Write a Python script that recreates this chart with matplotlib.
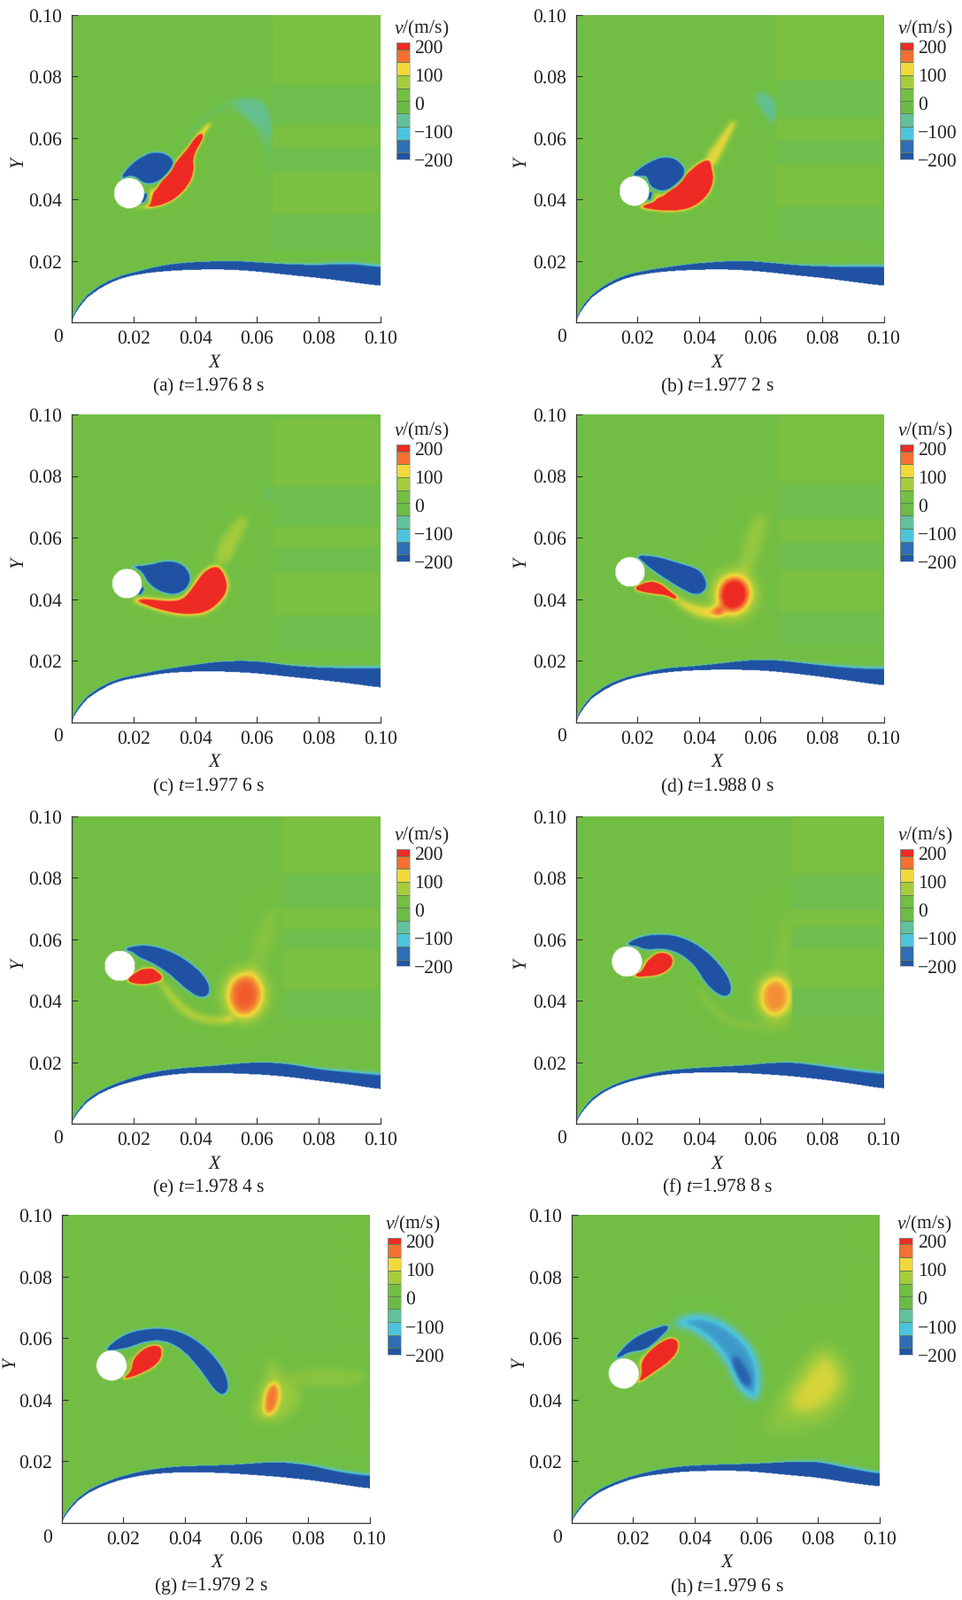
import matplotlib
matplotlib.use('Agg')
import matplotlib.pyplot as plt
import numpy as np
from matplotlib.colors import BoundaryNorm, LinearSegmentedColormap, ListedColormap, Normalize
from matplotlib.path import Path

plt.rcParams['font.family'] = ['Liberation Serif', 'DejaVu Sans']
plt.rcParams['mathtext.fontset'] = 'custom'
plt.rcParams['mathtext.rm'] = 'Liberation Serif'
plt.rcParams['mathtext.it'] = 'Liberation Serif:italic'
plt.rcParams['text.hinting'] = 'no_hinting'

W, H = 1087, 1807
FS = 15.6

LETTERS = ['a', 'b', 'c', 'd', 'e', 'f', 'g', 'h']
TIMES = ['1.976 8', '1.977 2', '1.977 6', '1.988 0', '1.978 4', '1.978 8', '1.979 2', '1.979 6']

# colour bar
CBAR_LEVELS = [-200, -176, -131, -85, -39, 6, 50, 96, 143, 188, 212]
CBAR_COLORS = ['#2255a4', '#2f6db5', '#4cc4dc', '#62c09b', '#6cbb47', '#72bf44',
               '#a5cc3c', '#f2d83a', '#f37032', '#ee2a24']
CBAR_TICKS = [200, 100, 0, -100, -200]
CBAR_LABELS = ['200', '100', '0', '\u2212100', '\u2212200']

# wall and outer edge of the boundary layer, in mm
BL_X = [0, 2, 5, 9, 15, 22, 29, 37, 47, 55, 62, 70, 80, 90, 100]
a_wall = [0.0, 4.2, 7.9, 10.9, 14.0, 15.6, 16.4, 16.9, 17.1, 16.8, 16.2, 15.3, 14.3, 13.0, 11.7]
a_top = [0.5, 5.0, 8.7, 11.8, 14.8, 16.6, 18.3, 19.3, 19.7, 19.7, 19.2, 18.7, 18.5, 18.9, 17.8]
b_wall = [0.0, 4.2, 7.9, 10.9, 14.0, 15.6, 16.4, 16.9, 17.1, 16.8, 16.2, 15.3, 14.3, 13.0, 11.7]
b_top = [0.5, 5.0, 8.7, 11.8, 15.0, 16.6, 17.7, 18.8, 19.6, 19.8, 19.3, 18.5, 18.0, 17.9, 17.8]
c_wall = [0.0, 4.0, 7.6, 10.4, 13.4, 14.6, 15.8, 16.4, 16.5, 16.2, 15.7, 14.8, 13.8, 12.6, 11.2]
c_top = [0.5, 4.8, 8.4, 11.3, 14.2, 15.5, 17.0, 18.2, 19.6, 19.9, 19.6, 18.4, 17.7, 17.5, 17.5]
d_wall = [0.0, 4.0, 7.7, 10.5, 13.5, 15.2, 16.2, 16.8, 17.1, 17.0, 16.7, 15.9, 14.7, 13.3, 11.9]
d_top = [0.5, 4.8, 8.5, 11.5, 14.3, 16.0, 17.6, 18.0, 19.1, 20.0, 20.3, 19.6, 18.4, 17.5, 17.2]
e_wall = [0.0, 3.5, 6.9, 9.7, 12.3, 14.2, 15.4, 16.3, 16.4, 16.1, 15.8, 15.1, 13.8, 12.6, 11.0]
e_top = [0.5, 4.2, 7.7, 10.6, 13.2, 15.6, 17.1, 18.0, 18.7, 19.5, 19.8, 19.3, 17.5, 16.5, 15.6]
f_wall = [0.0, 3.7, 7.2, 10.2, 13.0, 14.7, 15.9, 16.4, 16.6, 16.3, 15.9, 15.3, 14.2, 12.8, 11.2]
f_top = [0.5, 4.4, 8.0, 11.0, 13.7, 15.6, 17.1, 17.8, 18.4, 18.8, 19.5, 19.8, 18.5, 17.0, 15.9]
g_wall = [0.0, 3.6, 7.0, 10.0, 12.7, 14.7, 15.8, 16.3, 16.3, 16.0, 15.5, 14.9, 13.9, 12.5, 11.0]
g_top = [0.7, 4.3, 7.8, 10.8, 13.6, 15.8, 17.3, 18.2, 18.5, 18.7, 19.2, 19.7, 18.7, 16.4, 15.1]
h_wall = [0.0, 3.6, 7.0, 10.0, 12.7, 14.9, 15.8, 16.6, 16.9, 16.8, 16.3, 15.5, 14.6, 13.0, 11.7]
h_top = [0.7, 4.3, 7.8, 10.8, 13.6, 15.8, 17.4, 18.4, 18.8, 19.0, 19.2, 19.7, 19.8, 17.6, 15.8]

# cylinder: x, y, radius in mm
CYLINDERS = [(18.5, 41.8, 4.9), (18.8, 42.5, 4.8), (17.8, 45.0, 4.8), (17.4, 48.8, 4.8),
             (15.5, 51.1, 4.9), (16.4, 52.5, 4.9), (16.0, 51.0, 4.9), (16.8, 48.4, 4.9)]

# slightly lighter and darker bands at the right of the field (x start, y edges, v)
STRIPE_X = [65, 65, 65.5, 65.9, 68.4, 70, None, None]
STRIPE_Y = [[100, 77, 63.6, 56.9, 48.7, 34.8, 23.3],
            [100, 78.4, 66, 59, 51.1, 37.2, 26.2],
            [98, 76.4, 63.5, 56.8, 48.6, 34.7, 23.2],
            [100, 77.4, 65.9, 58.2, 49.6, 35.7, 24.6],
            [100, 81.1, 69.8, 63.1, 56.4, 43.4, 33.8],
            [98.8, 80.8, 69.3, 63.6, 56.4, 43.9, 34.5],
            [], []]
STRIPE_V = [14, -12, 14, -12, 14, -12]

# vortex outlines, mm
a_blue = [(15.1, 46.1), (19.6, 51.6), (24.6, 54.7), (28.6, 55.1), (32.1, 53.5), (33.1, 50.6),
          (30.6, 47.3), (26.1, 44.9), (23.1, 45.2), (20.6, 47.3), (18.6, 47.7)]
a_red = [(19.1, 36.9), (23.6, 37.0), (29.6, 37.9), (34.6, 40.8), (38.1, 44.9), (39.6, 49.2),
         (39.2, 53.0), (40.6, 56.4), (42.8, 60.6), (41.2, 60.6), (38.6, 57.8), (34.1, 52.5),
         (28.6, 45.4), (26.6, 41.5), (26.1, 38.6), (23.1, 37.2)]
a_tail = [(39.6, 56), (43, 61), (45.5, 64.5), (44.6, 65), (41, 62), (38, 57)]
a_gap = [(24.6, 38.6), (27.6, 38.6), (27.6, 43.4), (25, 43.4)]
a_nub = [(22.5, 38.2), (24, 39.5), (24.5, 42), (23.6, 42), (22.5, 39.5)]
a_arc = [(33.6, 54.5), (40.6, 65.5), (48.6, 71.7), (55.6, 73.6), (64.6, 71.7), (64.6, 42.5),
         (62.6, 54.9), (57.6, 65.5), (49.6, 69.8), (41.6, 64), (35.6, 56.9)]
a_core = [(51.6, 72.8), (64.9, 71.7), (64.9, 57), (61.6, 62.4), (55.6, 67.2)]

b_blue = [(17.4, 47.3), (22.4, 51.1), (27.4, 53.5), (31.9, 53.2), (35.1, 50.1), (34.9, 46.8),
          (32.4, 43.9), (28.4, 42.5), (24.9, 43.4), (23.4, 45.4), (23.2, 47.5), (20.9, 47.6)]
b_red = [(19.4, 37.4), (25.4, 36.3), (31.4, 35.9), (37.4, 36.9), (42.4, 40.6), (44.6, 45.4),
         (44.2, 49.7), (42.4, 53.0), (38.4, 50.6), (33.4, 45.8), (28.4, 41.0), (23.9, 38.4)]
b_tail = [(40.9, 52.5), (45.4, 58.8), (50.4, 65.8), (52.4, 65.3), (49.4, 58.8), (46.4, 53), (44.9, 50)]
b_gap = [(24.9, 42), (28.4, 41.5), (25.4, 38.7)]
b_nub = [(23, 38.5), (24.3, 40), (24.8, 42.5), (23.7, 42.5)]
b_plume = [(56.9, 75.1), (64.9, 73.7), (64.9, 62.5), (59.4, 69.3)]

c_blue = [(18.1, 50.5), (24.6, 50.8), (30.6, 52.4), (35.6, 51.5), (38.4, 47.7), (37.6, 43.8),
          (33.6, 41.4), (28.6, 42.4), (24.6, 45.3), (23.1, 48.6), (20.6, 50.3)]
c_red = [(18.6, 39.8), (23.6, 38.1), (29.6, 36), (37.6, 34.7), (44.6, 35.8), (49.6, 40.9),
         (50.6, 44.8), (48.6, 49.6), (46.6, 51), (42.6, 49.1), (39.1, 43.8), (35.6, 39.5),
         (29.6, 39.5), (23.6, 40.2)]
c_nub = [(21, 40.5), (23, 42), (23.5, 44), (22.5, 44)]
c_tail = [(45.6, 51.5), (48.6, 60.1), (54.6, 67.3), (57.6, 66.4), (53.1, 57.2), (51.1, 51.5)]
c_plume = [(60.6, 76.5), (65.1, 75.5), (65.1, 69.7)]

d_blue = [(18.9, 54.1), (25.4, 53.9), (33.4, 51.5), (39.9, 49.6), (42.2, 45.7), (41.9, 42.9),
          (38.9, 41.1), (33.4, 43.8), (27.4, 47.7), (23.4, 50.5), (21.4, 52.5)]
d_red = [(17.9, 43.2), (22.4, 45.6), (26.4, 45.6), (30.4, 42.6), (33.4, 39.6), (29.4, 41.2), (23.4, 41.8)]
d_band = [(29.4, 42.5), (35.4, 39.5), (42, 37.5), (47, 37.5), (48, 33.8), (42, 33.2),
          (37.4, 34.8), (31.4, 39)]
d_blob = [(44.9, 41.4), (46.2, 46.5), (51.4, 49), (56.2, 46.5), (57.7, 41.4), (55.4, 36), (50, 34), (46, 36)]
d_tail = [(52.4, 48.3), (54.4, 58.2), (57.4, 66.8), (62.4, 67.8), (60.9, 60.1), (56.9, 48.3)]

e_blue = [(16.1, 56.4), (21.6, 57.8), (27.6, 57.3), (34.6, 54.5), (40.6, 50.1), (44.1, 45.8),
          (44.6, 42), (41.6, 40.6), (36.6, 43.9), (31.6, 48.7), (25.6, 52.5), (21.6, 54), (19.6, 55.9)]
e_red = [(17.1, 46.3), (20.6, 49.1), (25.6, 50.8), (28.6, 48.6), (29.6, 46.8), (26.1, 45.4), (21.6, 44.9)]
e_gap = [(20, 47.5), (22, 50), (24, 51), (21, 46)]
e_band = [(29.1, 46.8), (32.6, 42.5), (38.6, 36.3), (46.6, 34.3), (51.6, 35.3), (52.6, 32.4),
          (45.6, 31.8), (37.6, 33.8), (31.6, 39.6), (27.6, 46)]
e_blob = [(48.9, 41.5), (50.8, 47.8), (56.3, 50.3), (61.5, 47.8), (63.3, 41.5), (61, 35.5), (55.5, 32.7), (50.8, 35.5)]
e_tail = [(56.6, 47.7), (59.6, 60.2), (63.6, 69.8), (67.1, 69.8), (64.6, 58.3), (60.6, 47.7)]

f_blue = [(15.4, 57.8), (20.4, 60.4), (26.4, 61.4), (33.4, 60.7), (40.4, 57.3), (46.4, 51.6),
          (49.9, 46.3), (50.2, 42), (47.4, 41), (42.4, 44.9), (38.4, 51.6), (33.4, 55.4),
          (28.4, 56.9), (22.4, 56.4), (19.4, 57.8)]
f_red = [(17.4, 47.7), (21.9, 49.7), (22.9, 52.5), (25.9, 55.4), (29.4, 55.4), (31.6, 53.5),
         (30.9, 50.6), (27.4, 48.2), (22.4, 47.5)]
f_gap = [(21.5, 48.5), (22.5, 52), (24.5, 54.5), (21.5, 52)]
f_blob = [(58.4, 41), (60, 46.5), (64.7, 48.6), (69.2, 46.5), (70.8, 41), (69, 35.5), (64.4, 33.4), (60, 35.5)]
f_band = [(39.4, 44.9), (46.4, 35.8), (55.4, 32.1), (69.4, 33.1), (69.4, 30.3), (54.4, 30),
          (45.4, 33.8), (38.4, 44)]
f_tail = [(63.4, 46.8), (66.4, 67.9), (69.9, 69.8), (69.9, 46.8)]

g_blue = [(13.4, 55.6), (18.9, 60.4), (24.9, 62.5), (32.9, 63.1), (39.9, 61.4), (46.9, 56.6),
          (52.4, 49.9), (54.1, 44.1), (52.4, 41.2), (49.4, 43.1), (44.9, 49.9), (38.9, 56.6),
          (32.9, 59.4), (26.9, 59), (21.9, 57), (16.9, 56.1)]
g_red = [(18.9, 46.5), (22.4, 48.9), (22.9, 53.2), (26.9, 57), (31.4, 57.8), (32.7, 55.6),
         (31.4, 51.8), (26.9, 48.9), (21.9, 47)]
g_gap = [(20.9, 48), (21.8, 52.5), (24, 55), (21, 52)]
g_blob = [(65, 38), (65.6, 43), (68.4, 46.5), (70.8, 44.5), (70.8, 39), (68.4, 34.5), (65.6, 34.5)]
g_halo = [(59.9, 32.6), (64.9, 44.1), (67.9, 54.6), (71.9, 47), (78.4, 43.1), (73.9, 33.6)]
g_patch = [(72.9, 49.9), (98.4, 49.9), (98.4, 44.1), (74.9, 44.1)]

h_blue = [(13.3, 52.7), (18.8, 59), (24.8, 62.3), (32.8, 64.7), (27.8, 59.4), (23.8, 56.1),
          (18.8, 55.6), (15.8, 53.9)]
h_arc = [(31.8, 64.8), (38.8, 68), (46.8, 66.7), (55.4, 61), (60.8, 53), (61.3, 44), (60, 38.5),
         (54, 43), (50.8, 50.7), (45.8, 57.6), (39.8, 62.3), (33.8, 63.8)]
h_inner = [(52.3, 55.4), (56.8, 48.9), (58.3, 44.1), (55.8, 44.6), (52.3, 50.3)]
h_red = [(20.3, 44.6), (22.8, 47.9), (22.3, 51.8), (24.8, 55.6), (29.8, 59.4), (33.8, 60.1),
         (34.8, 57), (32.8, 53.2), (26.8, 48.9)]
h_gap = [(21.8, 47.5), (22, 52), (24, 55), (21.5, 52.5)]
h_blob = [(68.8, 37.4), (70.8, 43.1), (76.8, 50.7), (81.8, 57.5), (87.8, 49.9), (88.8, 44.1),
          (81.8, 36.4), (74.8, 34.5)]
h_halo = [(60.8, 28.8), (70.8, 45.1), (81.8, 60.4), (92.8, 47), (83.8, 31.6), (65.8, 28.8)]

# shape, speed, blur (mm)
SHAPES = [
    [(a_blue, -300, 0.45), (a_red, 280, 0.5), (a_tail, 120, 0.5), (a_gap, 110, 0.5), (a_nub, -230, 0.25),
     (a_arc, -26, 0.6), (a_core, -30, 1.0)],
    [(b_blue, -300, 0.45), (b_red, 280, 0.55), (b_tail, 110, 0.7), (b_gap, 80, 0.4), (b_nub, -230, 0.25),
     (b_plume, -60, 1.0)],
    [(c_blue, -300, 0.45), (c_red, 280, 0.8), (c_nub, -230, 0.25), (c_tail, 70, 1.0), (c_plume, -35, 0.8)],
    [(d_blue, -300, 0.45), (d_red, 280, 0.45), (d_band, 115, 1.0), (d_blob, 225, 2.4), (d_tail, 50, 1.4)],
    [(e_blue, -300, 0.45), (e_red, 280, 0.45), (e_gap, 80, 0.4), (e_band, 85, 0.8), (e_blob, 170, 2.0),
     (e_tail, 30, 1.5)],
    [(f_blue, -300, 0.45), (f_red, 280, 0.45), (f_gap, 130, 0.4), (f_blob, 150, 1.7), (f_band, 30, 1.0),
     (f_tail, 22, 1.8)],
    [(g_blue, -300, 0.45), (g_red, 280, 0.45), (g_gap, 130, 0.4), (g_blob, 105, 1.0), (g_halo, 55, 1.5),
     (g_patch, 30, 1.0)],
    [(h_blue, -300, 0.45), (h_arc, -130, 1.3), (h_inner, -50, 1.0), (h_red, 280, 0.45), (h_gap, 130, 0.4),
     (h_blob, 68, 2.2), (h_halo, 35, 2.8)],
]
WALLS = [a_wall, b_wall, c_wall, d_wall, e_wall, f_wall, g_wall, h_wall]
TOPS = [a_top, b_top, c_top, d_top, e_top, f_top, g_top, h_top]

# page layout in pixels: axes left, right, top, bottom; colour bar left, top
AX_L = [81.3, 650.8, 81.3, 650.8, 81.3, 650.8, 69.9, 645.9]
AX_R = [429.6, 998.5, 429.6, 998.5, 429.6, 998.5, 417.5, 993.7]
AX_T = [16.7, 16.7, 468, 468, 921.7, 921.7, 1372.3, 1372.3]
AX_B = [364.3, 364.3, 815.7, 815.7, 1269.3, 1269.3, 1720, 1720]
CB_L = [447.7, 1016.8, 447.7, 1016.8, 447.7, 1016.8, 437.6, 1016.1]
CB_T = [48, 48, 502, 502, 959.3, 959.3, 1397.7, 1397.7]
XLAB_DX = [161, 160, 161, 160, 161, 160, 175, 175]
TITLE_DX = [154, 160, 154, 160, 154, 160, 168, 175]
YLAB_DX = [-61, -62, -61, -62, -61, -62, -58, -59]

GRID = np.arange(-10, 110, 0.2)
XX, YY = np.meshgrid(GRID, GRID)
POINTS = np.column_stack([XX.ravel(), YY.ravel()])
FX = np.fft.fftfreq(len(GRID), 0.2)
KX, KY = np.meshgrid(FX, FX)


def blur(mask, sigma):
    gain = np.exp(-2 * (np.pi * sigma) ** 2 * (KX ** 2 + KY ** 2))
    return np.fft.ifft2(np.fft.fft2(mask) * gain).real


def rounded(pts, n=2):
    p = np.array(pts, float)
    for _ in range(n):
        q = np.roll(p, -1, axis=0)
        p = np.column_stack([0.75 * p + 0.25 * q, 0.25 * p + 0.75 * q]).reshape(-1, 2)
    return p


def inside(poly):
    return Path(poly).contains_points(POINTS).reshape(XX.shape).astype(float)


def curve(ys):
    # smooth the read points along x, but keep the steep nose as read
    bx = np.array(BL_X + [110.0])
    y = np.array(ys + [ys[-1]], float)
    sx = np.clip(GRID, 0, None) ** 0.75
    raw = np.interp(sx, bx ** 0.75, y)
    win = np.ones(41) / 41
    soft = np.convolve(np.pad(raw, 20, mode='edge'), win, mode='valid')
    w = np.clip((GRID - 5) / 10, 0, 1)
    return raw * (1 - w) + soft * w


def make_field(i):
    cut = STRIPE_X[i]
    v = np.zeros_like(XX)
    if cut is not None:
        ys = STRIPE_Y[i]
        for k, val in enumerate(STRIPE_V):
            box = (XX >= cut) & (XX <= 99) & (YY <= ys[k]) & (YY > ys[k + 1])
            v += val * blur(box.astype(float), 0.3)
    for pts, val, sig in SHAPES[i]:
        layer = val * blur(inside(rounded(pts)), sig)
        if cut is not None and abs(val) < 220:
            layer[XX > cut] = 0
        v += layer
    # boundary layer, carried well below the wall so the wall edge stays dark
    top_y = curve(TOPS[i])[None, :]
    wall_y = curve(WALLS[i])[None, :]
    layer = ((YY < top_y) & (YY > wall_y - 3) & (XX > -1)).astype(float)
    w = np.clip((XX - 60) / 30, 0, 1)
    v += -280 * (blur(layer, 0.2) * (1 - w) + blur(layer, 0.8) * w)
    cx, cy, r = CYLINDERS[i]
    solid = (YY < wall_y) | ((XX - cx) ** 2 + (YY - cy) ** 2 < r ** 2)
    return np.ma.masked_where(solid, v)


field_cmap = LinearSegmentedColormap.from_list('v', [
    (0.0, '#2052a3'), (0.0375, '#2255a4'), (0.1175, '#2f6db5'), (0.23, '#4cc4dc'), (0.345, '#62c09b'),
    (0.455, '#6fbf52'), (0.5, '#72be44'), (0.535, '#7dc142'), (0.68, '#a5cc3c'), (0.80, '#f2d83a'),
    (0.905, '#f37032'), (0.97, '#ee2a24'), (1.0, '#ee2a24')])
field_cmap.set_bad('white')
field_norm = Normalize(-200, 200)

cbar_cmap = ListedColormap(CBAR_COLORS)
cbar_norm = BoundaryNorm(CBAR_LEVELS, cbar_cmap.N)
cbar_vals = [[(CBAR_LEVELS[k] + CBAR_LEVELS[k + 1]) / 2] for k in range(len(CBAR_COLORS))]

fig = plt.figure(figsize=(W / 100, H / 100), dpi=100)


def fx(px):
    return px / W


def fy(py):
    return 1 - py / H


for i, letter in enumerate(LETTERS):
    l, r, t, b = AX_L[i], AX_R[i], AX_T[i], AX_B[i]
    ax = fig.add_axes([fx(l), fy(b), (r - l) / W, (b - t) / H])
    ax.imshow(make_field(i), extent=[-0.01, 0.11, -0.01, 0.11], origin='lower', aspect='auto',
              cmap=field_cmap, norm=field_norm, interpolation='bilinear')
    ax.set_xlim(0, 0.10)
    ax.set_ylim(0, 0.10)
    ax.spines['top'].set_visible(False)
    ax.spines['right'].set_visible(False)
    for side in ['left', 'bottom']:
        ax.spines[side].set_color('#333333')
        ax.spines[side].set_linewidth(0.9)
    ticks = [0.02, 0.04, 0.06, 0.08, 0.10]
    labels = ['0.02', '0.04', '0.06', '0.08', '0.10']
    ax.set_xticks(ticks, labels)
    ax.set_yticks(ticks, labels)
    ax.tick_params(direction='in', length=4.8, width=0.8, color='#333333', labelsize=FS,
                   labelcolor='#222222', pad=6)
    ax.tick_params(axis='y', pad=8)

    fig.text(fx(l - 16), fy(b + 16), '0', fontsize=FS, color='#222222', ha='center', va='center')
    fig.text(fx(l + XLAB_DX[i]), fy(b + 45), 'X', fontsize=FS, style='italic', color='#222222',
             ha='center', va='center')
    fig.text(fx(l + YLAB_DX[i]), fy(b - 181), 'Y', fontsize=FS, style='italic', color='#222222', rotation=90,
             ha='center', va='center')
    fig.text(fx(l + TITLE_DX[i]), fy(b + 72), f'({letter}) $t$={TIMES[i]} s', fontsize=FS,
             color='#222222', ha='center', va='center')

    cax = fig.add_axes([fx(CB_L[i]), fy(CB_T[i] + 132), 15 / W, 132 / H])
    cax.pcolormesh([0, 1], CBAR_LEVELS, cbar_vals, cmap=cbar_cmap, norm=cbar_norm,
                   edgecolors='#5f7f55', linewidth=0.4)
    cax.set_ylim(-200, 212)
    cax.set_xticks([])
    cax.yaxis.tick_right()
    cax.set_yticks(CBAR_TICKS, CBAR_LABELS)
    cax.tick_params(length=0, labelsize=FS, labelcolor='#222222', pad=4)
    for s in cax.spines.values():
        s.set_color('#999999')
        s.set_linewidth(0.4)
    fig.text(fx(CB_L[i] + 28.5), fy(CB_T[i] - 16), '$v$/(m/s)', fontsize=FS, color='#222222',
             ha='center', va='center')

fig.savefig('out.png', dpi=100)
